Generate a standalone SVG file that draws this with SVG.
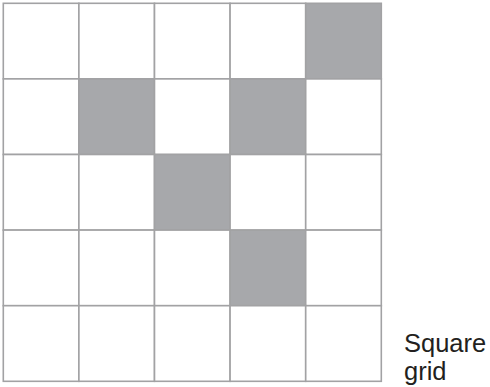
<svg xmlns="http://www.w3.org/2000/svg" width="490" height="387" viewBox="0 0 490 387">
<style>
.cell{fill:#ffffff;stroke:#a2a2a4;stroke-width:1.6}
.shaded{fill:#a7a8ab;stroke:#a2a2a4;stroke-width:1.6}
.lbl{font-family:"Liberation Sans",Arial,sans-serif;font-size:25.5px;fill:#231f20}
</style>
<rect width="490" height="387" fill="#ffffff"/>
<g id="grid">
<rect class="cell" x="3.3" y="3.3" width="75.6" height="75.6"/>
<rect class="cell" x="78.9" y="3.3" width="75.6" height="75.6"/>
<rect class="cell" x="154.5" y="3.3" width="75.6" height="75.6"/>
<rect class="cell" x="230.1" y="3.3" width="75.6" height="75.6"/>
<rect class="shaded" x="305.7" y="3.3" width="75.6" height="75.6"/>
<rect class="cell" x="3.3" y="78.9" width="75.6" height="75.6"/>
<rect class="shaded" x="78.9" y="78.9" width="75.6" height="75.6"/>
<rect class="cell" x="154.5" y="78.9" width="75.6" height="75.6"/>
<rect class="shaded" x="230.1" y="78.9" width="75.6" height="75.6"/>
<rect class="cell" x="305.7" y="78.9" width="75.6" height="75.6"/>
<rect class="cell" x="3.3" y="154.5" width="75.6" height="75.6"/>
<rect class="cell" x="78.9" y="154.5" width="75.6" height="75.6"/>
<rect class="shaded" x="154.5" y="154.5" width="75.6" height="75.6"/>
<rect class="cell" x="230.1" y="154.5" width="75.6" height="75.6"/>
<rect class="cell" x="305.7" y="154.5" width="75.6" height="75.6"/>
<rect class="cell" x="3.3" y="230.1" width="75.6" height="75.6"/>
<rect class="cell" x="78.9" y="230.1" width="75.6" height="75.6"/>
<rect class="cell" x="154.5" y="230.1" width="75.6" height="75.6"/>
<rect class="shaded" x="230.1" y="230.1" width="75.6" height="75.6"/>
<rect class="cell" x="305.7" y="230.1" width="75.6" height="75.6"/>
<rect class="cell" x="3.3" y="305.7" width="75.6" height="75.6"/>
<rect class="cell" x="78.9" y="305.7" width="75.6" height="75.6"/>
<rect class="cell" x="154.5" y="305.7" width="75.6" height="75.6"/>
<rect class="cell" x="230.1" y="305.7" width="75.6" height="75.6"/>
<rect class="cell" x="305.7" y="305.7" width="75.6" height="75.6"/>
</g>
<g id="label">
<text class="lbl" x="404" y="351.5">Square</text>
<text class="lbl" x="404" y="380">grid</text>
</g>
</svg>
